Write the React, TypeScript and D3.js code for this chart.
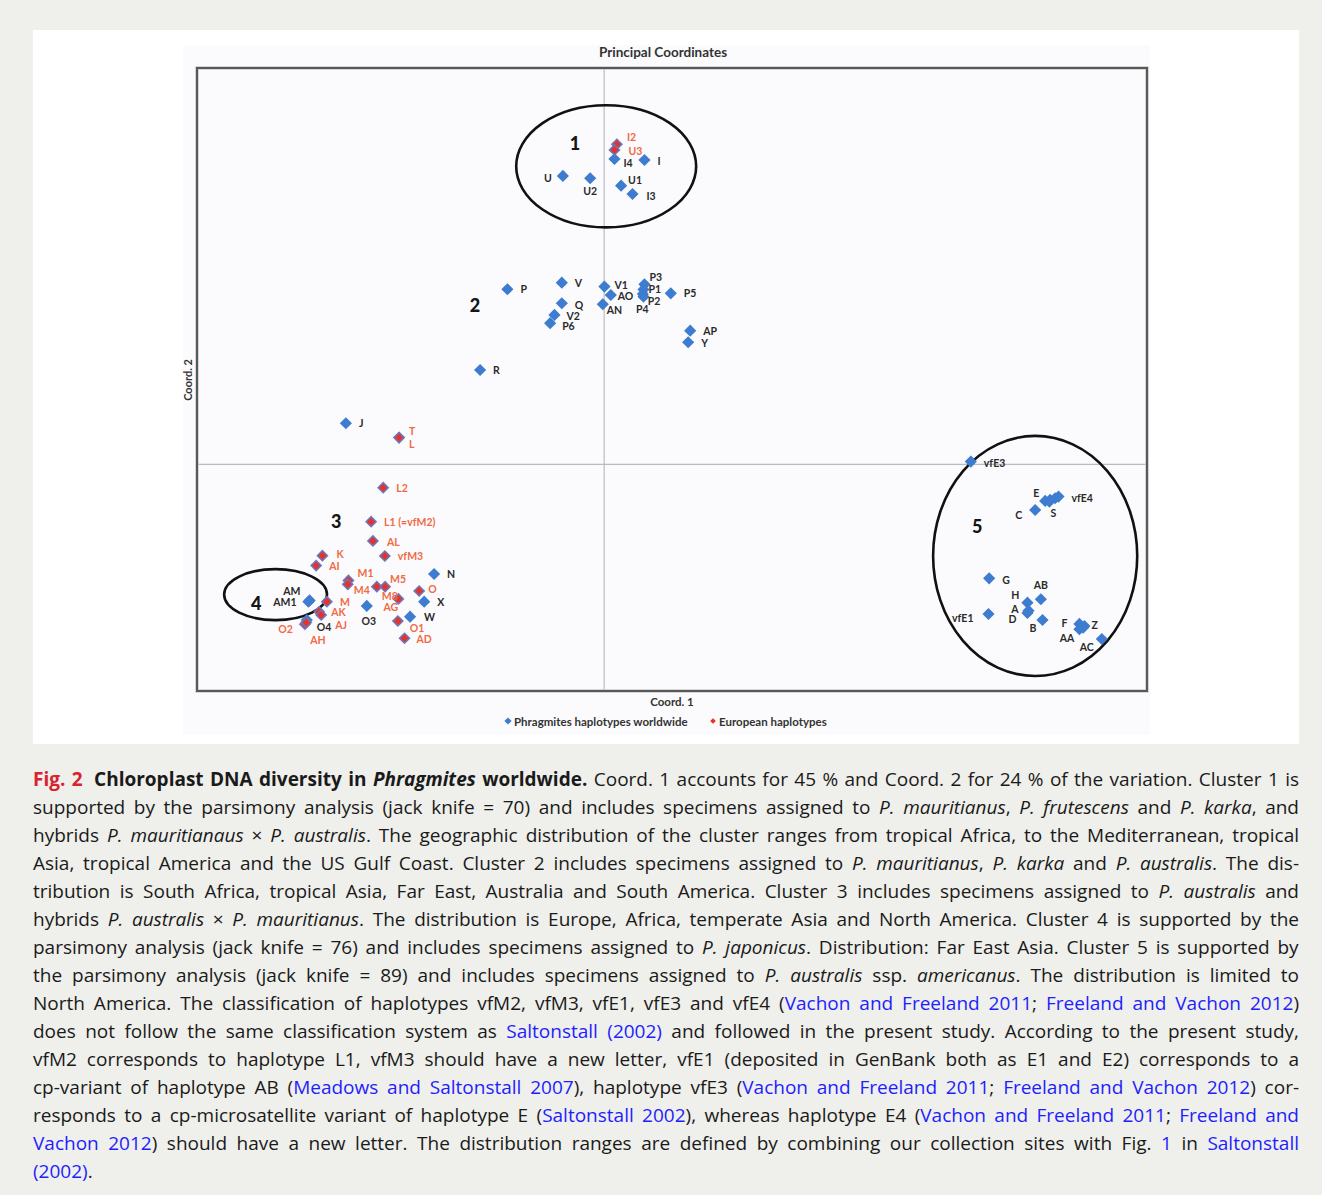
import React, { useEffect, useRef } from "react";
import * as d3 from "d3";

// ---------- DATA ----------
type Pt = [string, number, number];

const worldwideHaplotypes: Pt[] = [
  ["U", -0.0304, 0.2547], ["U2", -0.0103, 0.2527], ["I4", 0.0076, 0.2697], ["I", 0.0297, 0.2688],
  ["U1", 0.0125, 0.2461], ["I3", 0.0209, 0.2388],
  ["P", -0.0713, 0.1547], ["V", -0.0312, 0.1605], ["Q", -0.0312, 0.1423], ["V2", -0.0366, 0.132],
  ["P6", -0.0398, 0.1247], ["V1", 0.0002, 0.157], ["AO", 0.0049, 0.1496], ["AN", -0.001, 0.1414],
  ["P3", 0.0297, 0.1591], ["P1", 0.029, 0.1545], ["P2", 0.0285, 0.1505], ["P4", 0.029, 0.1481],
  ["P5", 0.0491, 0.1511], ["AP", 0.0634, 0.1181], ["Y", 0.0619, 0.1079], ["R", -0.0914, 0.0834],
  ["J", -0.1903, 0.0364],
  ["N", -0.1253, -0.0967], ["X", -0.1326, -0.1211], ["W", -0.143, -0.1344], ["O3", -0.1749, -0.1249],
  ["AM", -0.2179, -0.1211], ["AM1", -0.217, -0.12], ["O4", -0.2191, -0.1373],
  ["vfE3", 0.2702, 0.0025], ["E", 0.325, -0.0322], ["S", 0.3281, -0.0328], ["", 0.3286, -0.0313],
  ["", 0.3323, -0.0298], ["vfE4", 0.3348, -0.0284], ["C", 0.3176, -0.0402], ["G", 0.2837, -0.1005],
  ["AB", 0.3218, -0.119], ["H", 0.3119, -0.122], ["A", 0.3127, -0.1291], ["D", 0.3119, -0.1311],
  ["vfE1", 0.2832, -0.132], ["B", 0.323, -0.1373], ["F", 0.3502, -0.1408], ["Z", 0.3539, -0.1426],
  ["AA", 0.3502, -0.1455], ["", 0.353, -0.144], ["AC", 0.3667, -0.1541],
];

const europeanHaplotypes: Pt[] = [
  ["I2", 0.0094, 0.2827], ["U3", 0.0076, 0.2777],
  ["T", -0.1511, 0.0237], ["L", -0.1511, 0.0237], ["L2", -0.1628, -0.0205],
  ["L1 (=vfM2)", -0.1717, -0.0505], ["AL", -0.1704, -0.0675], ["vfM3", -0.1616, -0.0808],
  ["K", -0.2076, -0.0805], ["AI", -0.2122, -0.0893], ["M1", -0.1884, -0.1024], ["M4", -0.1889, -0.1058],
  ["M8", -0.1675, -0.1079], ["M5", -0.1614, -0.1079], ["AG", -0.1516, -0.1187], ["O", -0.1363, -0.1117],
  ["O1", -0.152, -0.1382], ["AD", -0.1471, -0.1534], ["M", -0.2043, -0.1211], ["AK", -0.21, -0.13],
  ["AJ", -0.2085, -0.1329], ["O2", -0.2205, -0.1411], ["AH", -0.2195, -0.1395],
];

// cluster annotations (data units): label, cx, cy, rx, ry
const clusterEllipses: [string, number, number, number, number][] = [
  ["1", 0.0015, 0.2632, 0.0663, 0.0539],
  ["4", -0.2421, -0.1149, 0.0379, 0.0225],
  ["5", 0.3176, -0.0808, 0.0752, 0.106],
];
const clusterNumbers: Pt[] = [
  ["1", -0.0214, 0.2838], ["2", -0.0951, 0.1408], ["3", -0.1975, -0.0499],
  ["4", -0.2564, -0.1223], ["5", 0.2749, -0.0539],
];

const chartTitle = "Principal Coordinates";
const xAxisTitle = "Coord. 1";
const yAxisTitle = "Coord. 2";
const legendItems = ["Phragmites haplotypes worldwide", "European haplotypes"];

// caption runs: [text, style]  style: n normal, b bold, bi bold italic, i italic, l link, r red bold
type Run = [string, string];
const captionLines: Run[][] = [
  [["Fig. 2", "r"], [" Chloroplast DNA diversity in ", "b"], ["Phragmites", "bi"], [" worldwide.", "b"], [" Coord. 1 accounts for 45 % and Coord. 2 for 24 % of the variation. Cluster 1 is", "n"]],
  [["supported by the parsimony analysis (jack knife = 70) and includes specimens assigned to ", "n"], ["P. mauritianus", "i"], [", ", "n"], ["P. frutescens", "i"], [" and ", "n"], ["P. karka", "i"], [", and", "n"]],
  [["hybrids ", "n"], ["P. mauritianaus", "i"], [" × ", "n"], ["P. australis", "i"], [". The geographic distribution of the cluster ranges from tropical Africa, to the Mediterranean, tropical", "n"]],
  [["Asia, tropical America and the US Gulf Coast. Cluster 2 includes specimens assigned to ", "n"], ["P. mauritianus", "i"], [", ", "n"], ["P. karka", "i"], [" and ", "n"], ["P. australis", "i"], [". The dis-", "n"]],
  [["tribution is South Africa, tropical Asia, Far East, Australia and South America. Cluster 3 includes specimens assigned to ", "n"], ["P. australis", "i"], [" and", "n"]],
  [["hybrids ", "n"], ["P. australis", "i"], [" × ", "n"], ["P. mauritianus", "i"], [". The distribution is Europe, Africa, temperate Asia and North America. Cluster 4 is supported by the", "n"]],
  [["parsimony analysis (jack knife = 76) and includes specimens assigned to ", "n"], ["P. japonicus", "i"], [". Distribution: Far East Asia. Cluster 5 is supported by", "n"]],
  [["the parsimony analysis (jack knife = 89) and includes specimens assigned to ", "n"], ["P. australis", "i"], [" ssp. ", "n"], ["americanus", "i"], [". The distribution is limited to", "n"]],
  [["North America. The classification of haplotypes vfM2, vfM3, vfE1, vfE3 and vfE4 (", "n"], ["Vachon and Freeland 2011", "l"], ["; ", "n"], ["Freeland and Vachon 2012", "l"], [")", "n"]],
  [["does not follow the same classification system as ", "n"], ["Saltonstall (2002)", "l"], [" and followed in the present study. According to the present study,", "n"]],
  [["vfM2 corresponds to haplotype L1, vfM3 should have a new letter, vfE1 (deposited in GenBank both as E1 and E2) corresponds to a", "n"]],
  [["cp-variant of haplotype AB (", "n"], ["Meadows and Saltonstall 2007", "l"], ["), haplotype vfE3 (", "n"], ["Vachon and Freeland 2011", "l"], ["; ", "n"], ["Freeland and Vachon 2012", "l"], [") cor-", "n"]],
  [["responds to a cp-microsatellite variant of haplotype E (", "n"], ["Saltonstall 2002", "l"], ["), whereas haplotype E4 (", "n"], ["Vachon and Freeland 2011", "l"], ["; ", "n"], ["Freeland and", "l"]],
  [["Vachon 2012", "l"], [") should have a new letter. The distribution ranges are defined by combining our collection sites with Fig. ", "n"], ["1", "l"], [" in ", "n"], ["Saltonstall", "l"]],
  [["(2002)", "l"], [".", "n"]],
];

// label placement around markers: [dx, dy, anchor]
const labelOffsets: Record<string, [number, number, string]> = {
  I2: [10, -7, "start"], U3: [14, 1, "start"], I4: [9, 4, "start"], I: [13, 1, "start"],
  U: [-11, 2, "end"], U2: [0, 13, "middle"], U1: [7, -6, "start"], I3: [14, 2, "start"],
  Q: [13, 2, "start"], V2: [12, 1, "start"], P6: [12, 3, "start"], V1: [10, -2, "start"],
  AO: [7, 1, "start"], AN: [4, 6, "start"], P3: [5, -7, "start"], P1: [5, 0, "start"],
  P2: [5, 7, "start"], P4: [5, 12, "end"], Y: [13, 1, "start"],
  T: [10, -7, "start"], L: [10, 6, "start"], AL: [14, 1, "start"], K: [14, -2, "start"],
  M1: [9, -7, "start"], M4: [6, 6, "start"], M8: [5, 9, "start"], M5: [5, -8, "start"],
  AG: [-15, 8, "start"], O: [9, -2, "start"], O1: [12, 7, "start"], AD: [12, 1, "start"],
  AK: [12, 0, "start"], AJ: [14, 10, "start"], O2: [-12, 5, "end"], AH: [4, 18, "start"],
  W: [14, 0, "start"], O3: [2, 15, "middle"], AM: [-8, -11, "end"], AM1: [-13, 2, "end"],
  O4: [10, 7, "start"], vfE3: [13, 1, "start"], E: [-6, -8, "end"], vfE4: [13, 1, "start"],
  S: [4, 11, "middle"], C: [-13, 5, "end"], G: [13, 2, "start"], AB: [0, -14, "middle"],
  H: [-8, -8, "end"], A: [-10, -2, "end"], D: [-11, 6, "end"], vfE1: [-15, 4, "end"],
  B: [-6, 8, "end"], F: [-12, -1, "end"], Z: [7, -1, "start"], AA: [-5, 9, "end"], AC: [-8, 8, "end"],
};

// ---------- COMPONENT ----------
const W = 1322;
const H = 1195;
const BLUE = "#3d7ccf";
const RED = "#e5322b";
const RED_TXT = "#f06a45";
const CHART_FONT = "Lato, 'Open Sans', sans-serif";
const CAP_FONT = "'Open Sans', 'Noto Sans', sans-serif";
const CAP_LEFT = 33;
const CAP_RIGHT = 1299;

export default function App() {
  const capRef = useRef<SVGGElement | null>(null);

  const x = d3.scaleLinear().domain([-0.3, 0.4]).range([197, 1147]);
  const y = d3.scaleLinear().domain([-0.2, 0.35]).range([691, 68]);
  const outerDiamond = d3.symbol(d3.symbolSquare, 74)();
  const innerDiamond = d3.symbol(d3.symbolSquare, 30)();
  const legendBlue = d3.symbol(d3.symbolSquare, 26)();
  const legendRed = d3.symbol(d3.symbolSquare, 16)();

  useEffect(() => {
    if (!capRef.current) return;
    d3.select(capRef.current)
      .selectAll<SVGTextElement, unknown>("text.just")
      .each(function () {
        this.style.wordSpacing = "0px";
        const spaces = ((this.textContent || "").trim().replace(/\s+/g, " ").split(" ").length) - 1;
        if (spaces <= 0) return;
        // iterate twice using the real bounding box so dx shifts are included
        for (let k = 0; k < 2; k++) {
          const bb = this.getBBox();
          const right = bb.x + bb.width;
          const cur = parseFloat(this.style.wordSpacing) || 0;
          const ws = cur + (CAP_RIGHT - right) / spaces;
          this.style.wordSpacing = ws + "px";
        }
      });
  }, []);

  const styleOf = (s: string) => {
    const st: any = {};
    if (s === "b" || s === "bi" || s === "r") st.fontWeight = 700;
    if (s === "i" || s === "bi") st.fontStyle = "italic";
    if (s === "l") st.fill = "#1e1eff";
    if (s === "r") st.fill = "#d8232f";
    return st;
  };

  const label = (p: Pt, color: string, key: string) => {
    if (!p[0]) return null;
    const off = labelOffsets[p[0]] || [13, 0, "start"];
    return (
      <text
        key={key}
        x={x(p[1]) + off[0]}
        y={y(p[2]) + off[1]}
        textAnchor={off[2] as any}
        dominantBaseline="central"
        fill={color}
        fontSize={10.5}
        fontWeight={700}
        fontFamily={CHART_FONT}
      >
        {p[0]}
      </text>
    );
  };

  return (
    <svg
      width={W}
      height={H}
      style={{ position: "absolute", left: 0, top: 0, display: "block" }}
      xmlns="http://www.w3.org/2000/svg"
    >
      <rect x={0} y={0} width={W} height={H} fill="#efefeb" />
      <rect x={33} y={30} width={1266} height={714} fill="#ffffff" />
      <rect x={183} y={45} width={967} height={690} fill="#fbfbfd" />

      {/* title */}
      <text x={663} y={57} textAnchor="middle" fontSize={13.5} fontWeight={700} fill="#333" fontFamily={CHART_FONT}>
        {chartTitle}
      </text>

      {/* zero lines */}
      <line x1={x(0)} x2={x(0)} y1={y(0.35)} y2={y(-0.2)} stroke="#b9bcc0" strokeWidth={1.2} />
      <line x1={x(-0.3)} x2={x(0.4)} y1={y(0)} y2={y(0)} stroke="#b4bcc6" strokeWidth={1.2} />

      {/* plot frame */}
      <rect x={197} y={68} width={950} height={623} fill="none" stroke="#f4cdb8" strokeWidth={4} opacity={0.6} />
      <rect x={197} y={68} width={950} height={623} fill="none" stroke="#4c5c66" strokeWidth={2.2} />

      {/* ellipses */}
      {clusterEllipses.map((e) => (
        <ellipse
          key={"e" + e[0]}
          cx={x(e[1])}
          cy={y(e[2])}
          rx={x(e[3]) - x(0)}
          ry={y(0) - y(e[4])}
          fill="none"
          stroke="#111"
          strokeWidth={2.6}
        />
      ))}
      {clusterNumbers.map((c) => (
        <text
          key={"c" + c[0]}
          x={x(c[1])}
          y={y(c[2])}
          textAnchor="middle"
          dominantBaseline="central"
          fontSize={18}
          fontWeight={900}
          fill="#151515"
          fontFamily={CHART_FONT}
        >
          {c[0]}
        </text>
      ))}

      {/* worldwide markers */}
      {worldwideHaplotypes.map((p, i) => (
        <path
          key={"b" + i}
          d={outerDiamond || ""}
          transform={`translate(${x(p[1])},${y(p[2])}) rotate(45)`}
          fill={BLUE}
        />
      ))}
      {/* european markers */}
      {europeanHaplotypes.map((p, i) => (
        <g key={"r" + i} transform={`translate(${x(p[1])},${y(p[2])}) rotate(45)`}>
          <path d={outerDiamond || ""} fill="#6f76b8" />
          <path d={innerDiamond || ""} fill={RED} />
        </g>
      ))}

      {worldwideHaplotypes.map((p, i) => label(p, "#2a2a2a", "bl" + i))}
      {europeanHaplotypes.map((p, i) => label(p, RED_TXT, "rl" + i))}

      {/* axis titles */}
      <text x={672} y={706} textAnchor="middle" fontSize={11.5} fontWeight={700} fill="#333" fontFamily={CHART_FONT}>
        {xAxisTitle}
      </text>
      <text
        transform="translate(192,380) rotate(-90)"
        textAnchor="middle"
        fontSize={11}
        fontWeight={700}
        fill="#333"
        fontFamily={CHART_FONT}
      >
        {yAxisTitle}
      </text>

      {/* legend */}
      <path d={legendBlue || ""} transform="translate(508,721) rotate(45)" fill={BLUE} />
      <text x={514} y={721} dominantBaseline="central" fontSize={11.5} fontWeight={700} fill="#333" fontFamily={CHART_FONT}>
        {legendItems[0]}
      </text>
      <path d={legendRed || ""} transform="translate(713,721) rotate(45)" fill={RED} />
      <text x={719} y={721} dominantBaseline="central" fontSize={11.5} fontWeight={700} fill="#333" fontFamily={CHART_FONT}>
        {legendItems[1]}
      </text>

      {/* caption */}
      <g ref={capRef} fontFamily={CAP_FONT} fontSize={19} fill="#1a1a1a">
        {captionLines.map((line, li) => (
          <text
            key={"cap" + li}
            className={li < captionLines.length - 1 ? "just" : ""}
            x={CAP_LEFT}
            y={785.5 + li * 28}
          >
            {line.map((r, ri) => (
              <tspan key={ri} style={styleOf(r[1])} dx={li === 0 && ri === 1 ? 5 : undefined}>
                {r[0]}
              </tspan>
            ))}
          </text>
        ))}
      </g>
    </svg>
  );
}
